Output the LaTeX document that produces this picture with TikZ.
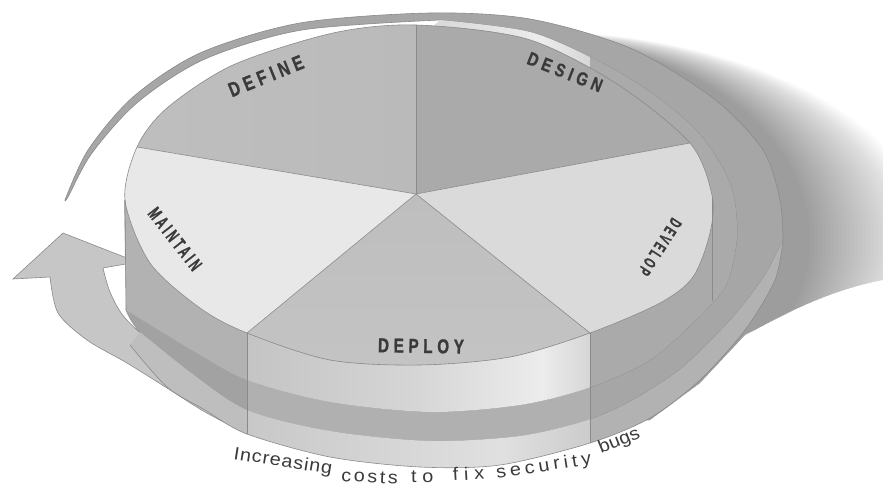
\documentclass[tikz,border=0pt]{standalone}
\usepackage{tikz}
\usepackage{graphicx}
\usepackage{fontspec}
\setmainfont{Liberation Sans}
\newfontfamily\labfont[LetterSpace=30, BoldFeatures={FakeBold=1.2}]{Liberation Sans}
\newfontfamily\capfont{Liberation Sans}
\definecolor{cDefine}{HTML}{BABABA}
\definecolor{cDefineL}{HTML}{CBCBCB}
\definecolor{cDesign}{HTML}{AAAAAA}
\definecolor{cDevelop}{HTML}{DADADA}
\definecolor{cDeployT}{HTML}{BEBEBE}
\definecolor{cDeployB}{HTML}{CFCFCF}
\definecolor{cMaintain}{HTML}{E8E8E8}
\definecolor{cRib}{HTML}{A6A6A6}
\definecolor{cRibFront}{HTML}{B0B0B0}
\definecolor{cRibLeft}{HTML}{A2A2A2}
\definecolor{cWallL}{HTML}{B2B2B2}
\definecolor{cWallR}{HTML}{AAAAAA}
\definecolor{cA1}{HTML}{C4C4C4}
\definecolor{cA2}{HTML}{D6D6D6}
\definecolor{cA3}{HTML}{ECECEC}
\definecolor{cA4}{HTML}{D6D6D6}
\definecolor{cC1}{HTML}{C8C8C8}
\definecolor{cC3}{HTML}{E0E0E0}
\definecolor{cC4}{HTML}{CCCCCC}
\definecolor{cSideL}{HTML}{BEBEBE}
\definecolor{cSideR}{HTML}{B2B2B2}
\definecolor{cArrow}{HTML}{C6C6C6}
\definecolor{cLine}{HTML}{8A8A8A}
\definecolor{cText}{HTML}{3A3A3A}
\definecolor{cCap}{HTML}{3A3A3A}
\pgfdeclarehorizontalshading{frontA}{100bp}{color(0bp)=(cA1); color(25bp)=(cA1); color(50bp)=(cA2); color(68bp)=(cA3); color(75bp)=(cA4); color(100bp)=(cA4)}
\pgfdeclarehorizontalshading{frontC}{100bp}{color(0bp)=(cC1); color(25bp)=(cC1); color(62bp)=(cC3); color(75bp)=(cC4); color(100bp)=(cC4)}
\newcommand{\slabel}[3]{\resizebox{#1pt}{#2pt}{\labfont\bfseries #3}}
\newcommand{\cword}[2]{\scalebox{1.1}[1]{\capfont\fontsize{18}{20}\selectfont\addfontfeature{LetterSpace=#1}#2}}
\tikzset{
  edge/.style={draw=cLine, line width=0.6pt},
  lab/.style={text=cText, inner sep=0pt},
  capword/.style={text=cCap, inner sep=0pt, anchor=base west},
}
\begin{document}
\begin{tikzpicture}[x=1pt,y=-1pt]
\useasboundingbox (0,0) rectangle (883,487);
% ---------- shadow
\begin{scope}
  \clip (300,0) -- (883,0) -- (883,280) .. controls (840,288) and (800,306) .. (770,322)
        -- (745,335) -- (700,383) -- (650,420) -- (300,420) -- cycle;
  \foreach \k in {0,...,29} {
    \fill[black, opacity=0.015] (530,240) ellipse [x radius={280pt+4pt*\k}, y radius={200pt+0.3pt*\k}];
  }
\end{scope}
% ---------- arrow
\path[fill=cArrow, edge] (63,233) -- (137,262) -- (103,268)
  -- plot[smooth] coordinates {(103,268) (110,292) (125,318) (160,350) (200,378) (247,400)}
  -- (247,434)
  -- plot[smooth] coordinates {(247,434) (205,412) (167,388) (127,363) (87,340) (58,313) (50,277)}
  -- (13,279) -- cycle;
% ---------- ribbon surface (outer ring)
\path[fill=cRib, edge]
  plot[smooth] coordinates {(65,200) (88,150) (133,97) (200,53) (300,23) (430,13) (530,19) (630,48) (713,98) (763,150) (780,200) (783,240)}
  -- plot[smooth] coordinates {(783,240) (765,275) (733,317) (683,367) (633,400) (588,420) (520,436) (430,441) (330,431) (247,410) (190,372) (140,332) (126,310)}
  -- plot[smooth] coordinates {(126,310) (190,349) (247,380) (330,402) (430,412) (520,405) (588,388) (650,360) (703,313) (727,283) (737,237) (733,193) (718,160) (693,127) (650,92) (600,62) (530,32) (440,20)}
  -- plot[smooth] coordinates {(440,20) (302,30) (205,59) (138,102) (92,153) (68,197) (65,200)}
  -- cycle;
% front part of the ribbon band
\begin{scope}
  \clip plot[smooth] coordinates {(783,240) (765,275) (733,317) (683,367) (633,400) (588,420) (520,436) (430,441) (330,431) (247,410) (190,372) (140,332) (126,310)}
  -- plot[smooth] coordinates {(126,310) (190,349) (247,380) (330,402) (430,412) (520,405) (588,388) (650,360) (703,313) (727,283) (737,237)} -- cycle;
  \fill[cRibLeft] (100,280) rectangle (247,480);
  \fill[cRibFront] (247,280) rectangle (590,480);
\end{scope}
% ---------- ribbon side band
\begin{scope}
  \clip plot[smooth] coordinates {(783,240) (765,275) (733,317) (683,367) (633,400) (588,420) (520,436) (430,441) (330,431) (247,410) (190,372) (140,332)}
  -- plot[smooth] coordinates {(130,345) (167,387) (205,410) (247,434) (330,457) (420,467) (500,465) (590,443) (650,418) (700,380) (745,330) (775,280) (783,240)} -- cycle;
  \fill[cSideL] (100,280) rectangle (247,480);
  \shade[shading=frontC] (247,280) rectangle (590,480);
  \fill[cSideR] (590,230) rectangle (800,480);
\end{scope}
% ---------- cylinder wall
\begin{scope}
  \clip plot[smooth] coordinates {(126,310) (190,349) (247,380) (330,402) (430,412) (520,405) (588,388) (650,360) (703,313) (727,283) (737,237) (733,193) (718,160) (693,127) (650,92) (600,62) (530,32) (440,20)}
   -- (300,150) -- (124,200) -- cycle;
  \fill[cWallL] (100,0) rectangle (247,480);
  \shade[shading=frontA] (247,0) rectangle (590,480);
  \fill[cWallR] (590,0) rectangle (800,480);
\end{scope}
% ---------- top face
\coordinate (C) at (416,194);
\coordinate (V1) at (137,147);
\coordinate (V2) at (416,25);
\coordinate (V3) at (690,143);
\coordinate (V4) at (590,333);
\coordinate (V5) at (247,333);
\begin{scope}
  \clip plot[smooth cycle] coordinates {(125,200) (137,147) (167,108) (233,65) (333,33) (416,25) (527,39) (617,84) (690,143) (712,195) (710,233) (693,277) (660,303) (590,333) (510,357) (420,365) (330,360) (247,333) (200,308) (150,263)};
  \shade[left color=cDefineL, right color=cDefine] (C) -- (-700,6) -- (416,-482) -- cycle;
  \fill[cDesign] (C) -- (416,-482) -- (1512,-10) -- cycle;
  \fill[cDevelop] (C) -- (1512,-10) -- (1112,750) -- cycle;
  \shade[top color=cDeployT, bottom color=cDeployB] (C) -- (1112,750) -- (-260,750) -- cycle;
  \fill[cMaintain] (C) -- (-260,750) -- (-700,6) -- cycle;
\end{scope}
\path[edge] plot[smooth cycle] coordinates {(125,200) (137,147) (167,108) (233,65) (333,33) (416,25) (527,39) (617,84) (690,143) (712,195) (710,233) (693,277) (660,303) (590,333) (510,357) (420,365) (330,360) (247,333) (200,308) (150,263)};
\foreach \v in {V1,V2,V3,V4,V5} { \draw[edge] (C) -- (\v); }
% ---------- wall lines
\coordinate (B1) at (247,434);
\coordinate (B2) at (590,443);
\coordinate (R1) at (712,198);
\coordinate (R2) at (712,301);
\coordinate (LT) at (125,200);
\coordinate (LB) at (126,310);
\draw[edge] (V5) -- (B1);
\draw[edge] (V4) -- (B2);
\draw[edge] (R1) -- (R2);
\draw[edge] (LT) -- (LB);
\path[edge] plot[smooth] coordinates {(130,345) (167,387) (205,410) (247,434) (330,457) (420,467) (500,465) (590,443) (650,418) (700,380) (745,330) (775,280) (783,240)};
% ---------- labels
\node[lab, rotate=22] (tDefine) at (266,76) {\slabel{79}{14}{DEFINE}};
\node[lab, rotate=-21.5] (tDesign) at (565,72) {\slabel{79}{13}{DESIGN}};
\node[lab, rotate=-122.7] (tDevelop) at (660,247) {\slabel{64}{12}{DEVELOP}};
\node[lab, rotate=-1] (tDeploy) at (421,346) {\slabel{86}{14}{DEPLOY}};
\node[lab, rotate=-52] (tMaintain) at (175,239) {\slabel{74}{13}{MAINTAIN}};
% ---------- bottom caption
\node[capword, rotate=-9] (w1) at (233,459) {\cword{4.4}{Increasing}};
\node[capword, rotate=-3] (w2) at (341,481) {\cword{12.9}{costs}};
\node[capword, rotate=0] (w3) at (411,482) {\cword{29}{to}};
\node[capword, rotate=3] (w4) at (453,481) {\cword{29}{fix}};
\node[capword, rotate=9] (w5) at (497,479) {\cword{20}{security}};
\node[capword, rotate=22] (w6) at (601,454) {\cword{0}{bugs}};
\end{tikzpicture}
\end{document}
